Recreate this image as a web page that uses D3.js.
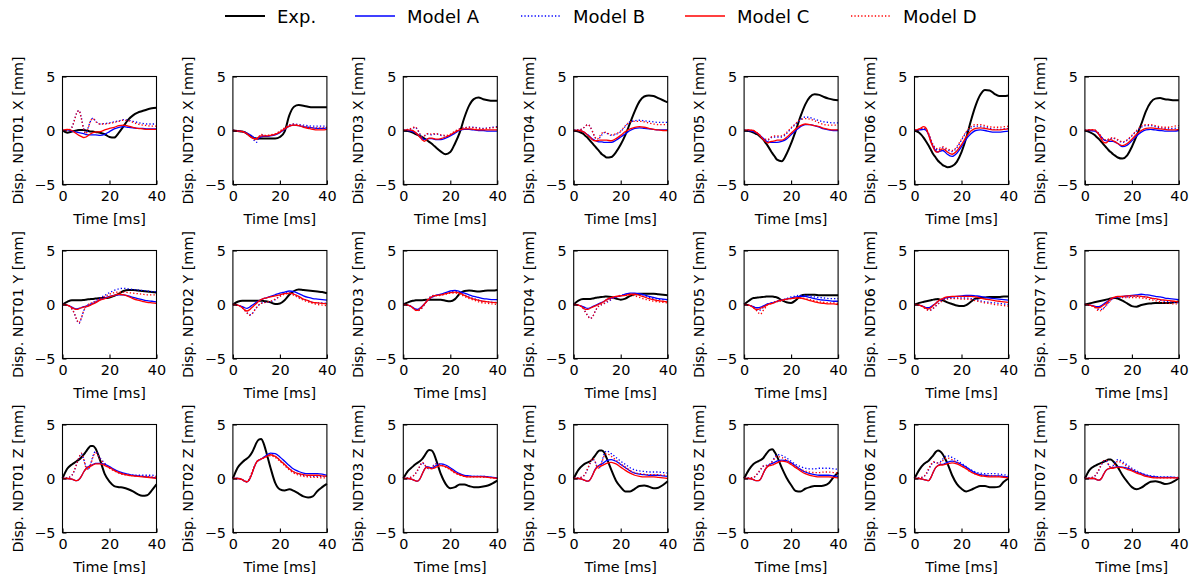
<!DOCTYPE html>
<html lang="en">
<head>
<meta charset="UTF-8">
<title>NDT displacement comparison</title>
<script src="https://d3js.org/d3.v7.min.js"></script>
<style>
  body { margin: 0; background: #fff; }
  svg { font-family: "DejaVu Sans", sans-serif; }
</style>
</head>
<body>
<div id="chart"></div>
<script>
// time samples [ms]
const TIME = [0,2,4,5,6,7,8,9,10,11,12,13,14,16,18,20,22,24,26,28,30,32,34,36,38,40];
const NODES = ["NDT01","NDT02","NDT03","NDT04","NDT05","NDT06","NDT07"];
const DIRS = ["X","Y","Z"];
const SERIES = ["Exp.","Model A","Model B","Model C","Model D"];
const X_TICKS = [0, 20, 40];
const Y_TICKS = [-5, 0, 5];

// ---- X displacement, one row per node ----
const expX = [
  [0,-0.2,-0.1,-0.05,0,0.05,0.05,0.05,0,-0.05,-0.1,-0.1,-0.15,-0.2,-0.35,-0.6,-0.65,-0.2,0.4,1.0,1.4,1.65,1.8,1.95,2.05,2.1],
  [0,-0.05,-0.1,-0.15,-0.3,-0.45,-0.6,-0.7,-0.75,-0.75,-0.75,-0.75,-0.75,-0.75,-0.75,-0.6,-0.1,1.4,2.2,2.35,2.3,2.2,2.15,2.15,2.15,2.15],
  [0,-0.05,-0.2,-0.3,-0.4,-0.5,-0.6,-0.75,-0.9,-1.05,-1.2,-1.4,-1.6,-1.95,-2.2,-2.0,-1.2,-0.2,1.2,2.3,2.9,3.05,2.9,2.8,2.75,2.75],
  [0,-0.1,-0.3,-0.5,-0.7,-0.95,-1.2,-1.45,-1.7,-1.95,-2.2,-2.35,-2.5,-2.45,-2.0,-1.3,-0.4,0.7,1.8,2.7,3.15,3.25,3.2,3.0,2.8,2.6],
  [0,-0.05,-0.2,-0.3,-0.4,-0.6,-0.8,-1.1,-1.4,-1.75,-2.1,-2.4,-2.7,-2.85,-2.2,-1.2,0,1.3,2.4,3.1,3.35,3.3,3.1,2.95,2.85,2.8],
  [0,-0.2,-0.7,-1.05,-1.4,-1.8,-2.2,-2.5,-2.8,-3.0,-3.2,-3.3,-3.4,-3.3,-2.9,-2.0,-0.7,0.9,2.3,3.3,3.75,3.7,3.4,3.2,3.2,3.25],
  [0,-0.15,-0.4,-0.6,-0.8,-1.05,-1.3,-1.55,-1.8,-2.0,-2.2,-2.35,-2.5,-2.6,-2.3,-1.5,-0.5,0.6,1.8,2.6,2.95,3.0,2.9,2.85,2.8,2.8]
];
const modelAX = [
  [0,0.05,-0.05,-0.1,-0.15,-0.2,-0.25,-0.3,-0.35,-0.4,-0.4,-0.4,-0.4,-0.45,-0.35,-0.1,0.15,0.3,0.35,0.3,0.25,0.2,0.2,0.15,0.15,0.15],
  [0,-0.05,-0.1,-0.15,-0.25,-0.35,-0.5,-0.65,-0.75,-0.7,-0.6,-0.55,-0.55,-0.5,-0.4,-0.2,0.1,0.4,0.5,0.45,0.35,0.3,0.25,0.2,0.2,0.25],
  [0,0,-0.1,-0.2,-0.35,-0.55,-0.75,-0.85,-0.8,-0.75,-0.75,-0.8,-0.85,-0.85,-0.7,-0.5,-0.25,0,0.1,0.1,0.05,0,0,-0.05,-0.05,-0.05],
  [0,0,-0.1,-0.25,-0.4,-0.6,-0.8,-0.9,-1.0,-1.05,-1.05,-1.1,-1.1,-1.1,-0.9,-0.6,-0.3,0,0.2,0.25,0.2,0.15,0.1,0.05,0.05,0.05],
  [0,0,-0.1,-0.2,-0.3,-0.5,-0.7,-0.9,-1.05,-1.1,-1.1,-1.1,-1.1,-1.0,-0.8,-0.4,0,0.35,0.55,0.55,0.45,0.3,0.15,0.05,0,0],
  [0,0.05,0.1,0,-0.4,-1.0,-1.5,-1.85,-2.0,-1.9,-1.85,-2.0,-2.2,-2.4,-2.1,-1.5,-0.8,-0.3,0,0.05,0,-0.1,-0.15,-0.15,-0.1,-0.05],
  [0,0,-0.05,-0.15,-0.35,-0.6,-0.85,-0.95,-1.0,-1.0,-1.0,-1.1,-1.2,-1.5,-1.35,-0.95,-0.5,-0.15,0.05,0.1,0.05,0,-0.05,-0.05,-0.05,0]
];
const modelBX = [
  [0,0,0.3,0.9,1.6,1.85,1.2,0.2,-0.4,0.3,0.9,1.15,0.9,0.6,0.65,0.7,0.8,0.9,1.0,0.95,0.85,0.75,0.65,0.6,0.6,0.6],
  [0,-0.05,-0.1,-0.15,-0.3,-0.45,-0.65,-0.9,-1.1,-0.7,-0.4,-0.45,-0.5,-0.45,-0.35,-0.1,0.2,0.5,0.6,0.55,0.5,0.45,0.4,0.4,0.4,0.4],
  [0,0.1,0.2,0.3,0.1,-0.3,-0.6,-0.5,-0.3,-0.35,-0.4,-0.35,-0.3,-0.45,-0.5,-0.4,-0.1,0.15,0.25,0.3,0.3,0.25,0.2,0.25,0.3,0.35],
  [0,0.05,0.2,0.4,0.55,0.35,-0.1,-0.6,-0.9,-0.7,-0.4,-0.2,-0.25,-0.45,-0.35,-0.1,0.4,0.8,0.9,0.95,0.9,0.85,0.8,0.75,0.75,0.75],
  [0,0,-0.05,-0.15,-0.3,-0.5,-0.75,-0.85,-0.9,-0.75,-0.6,-0.6,-0.6,-0.6,-0.3,0.2,0.6,1.0,1.25,1.2,1.05,0.9,0.8,0.75,0.7,0.7],
  [0,0.1,0.2,0.05,-0.3,-0.9,-1.4,-1.7,-1.8,-1.7,-1.6,-1.7,-1.8,-1.95,-1.6,-0.9,-0.2,0.2,0.4,0.4,0.3,0.2,0.1,0.1,0.15,0.2],
  [0,0.05,0.05,-0.1,-0.3,-0.6,-0.9,-0.9,-0.85,-0.75,-0.7,-0.8,-0.9,-1.1,-0.9,-0.5,-0.05,0.3,0.45,0.45,0.35,0.25,0.2,0.15,0.2,0.25]
];
const modelCX = [
  [0,0.1,0,-0.15,-0.3,-0.45,-0.55,-0.65,-0.6,-0.45,-0.3,-0.2,-0.15,-0.1,0.05,0.2,0.3,0.45,0.5,0.4,0.3,0.2,0.15,0.1,0.1,0.1],
  [0,-0.05,-0.1,-0.2,-0.3,-0.5,-0.65,-0.75,-0.75,-0.6,-0.5,-0.5,-0.5,-0.45,-0.35,-0.15,0.15,0.4,0.5,0.45,0.3,0.2,0.1,0.05,0.05,0.1],
  [0,0.05,0,-0.15,-0.35,-0.6,-0.85,-1.0,-0.85,-0.7,-0.7,-0.75,-0.8,-0.75,-0.6,-0.4,-0.15,0.05,0.15,0.15,0.1,0.05,0.05,0.05,0.05,0.05],
  [0,0,-0.1,-0.25,-0.45,-0.65,-0.85,-0.95,-0.95,-0.9,-0.9,-0.9,-0.9,-0.95,-0.75,-0.45,-0.1,0.15,0.3,0.35,0.3,0.2,0.1,0.05,0,0],
  [0,0.05,0,-0.15,-0.3,-0.55,-0.8,-1.0,-1.15,-1.05,-1.0,-0.95,-0.9,-0.9,-0.65,-0.25,0.15,0.45,0.6,0.55,0.45,0.35,0.2,0.1,0.05,0.05],
  [0,0.15,0.35,0.2,-0.4,-1.1,-1.6,-1.95,-2.0,-1.8,-1.7,-1.8,-2.0,-2.2,-1.9,-1.3,-0.6,-0.05,0.2,0.25,0.2,0.1,0.05,0.05,0.1,0.15],
  [0,0.05,0.05,-0.1,-0.4,-0.8,-1.1,-1.15,-0.95,-0.85,-0.95,-1.05,-1.2,-1.4,-1.2,-0.8,-0.35,0,0.2,0.25,0.2,0.15,0.1,0.05,0.05,0.1]
];
const modelDX = [
  [0,0,0.3,0.9,1.6,1.85,1.1,0.1,-0.3,0.3,0.9,1.1,0.85,0.6,0.6,0.65,0.75,0.85,0.95,0.9,0.75,0.6,0.5,0.45,0.4,0.4],
  [0,-0.05,-0.1,-0.15,-0.3,-0.45,-0.6,-0.8,-0.9,-0.6,-0.35,-0.4,-0.45,-0.4,-0.3,-0.05,0.25,0.5,0.6,0.5,0.4,0.3,0.25,0.25,0.25,0.3],
  [0,0.1,0.25,0.35,0.1,-0.3,-0.6,-0.5,-0.3,-0.3,-0.35,-0.3,-0.3,-0.4,-0.45,-0.35,-0.05,0.15,0.25,0.3,0.25,0.2,0.15,0.2,0.25,0.3],
  [0,0.05,0.2,0.4,0.55,0.35,-0.1,-0.6,-0.8,-0.55,-0.25,-0.15,-0.2,-0.4,-0.3,-0.05,0.45,0.8,0.85,0.85,0.8,0.7,0.6,0.55,0.55,0.55],
  [0,0.05,-0.05,-0.15,-0.3,-0.5,-0.75,-0.8,-0.85,-0.7,-0.55,-0.5,-0.5,-0.5,-0.2,0.25,0.65,1.0,1.1,1.05,0.9,0.7,0.55,0.5,0.5,0.5],
  [0,0.1,0.25,0.05,-0.3,-0.85,-1.35,-1.6,-1.7,-1.6,-1.5,-1.6,-1.7,-1.85,-1.5,-0.8,-0.1,0.35,0.55,0.55,0.45,0.35,0.3,0.3,0.35,0.4],
  [0,0.05,0.05,-0.1,-0.3,-0.55,-0.85,-0.85,-0.8,-0.7,-0.65,-0.75,-0.85,-1.05,-0.85,-0.45,0,0.4,0.55,0.55,0.45,0.35,0.3,0.3,0.4,0.45]
];

// ---- Y displacement ----
const expY = [
  [0,0.25,0.4,0.4,0.4,0.4,0.4,0.42,0.45,0.48,0.5,0.52,0.55,0.6,0.6,0.65,0.8,1.0,1.25,1.35,1.35,1.3,1.25,1.2,1.15,1.1],
  [0,0.25,0.35,0.35,0.35,0.35,0.35,0.35,0.35,0.35,0.35,0.33,0.3,0.2,0.05,0.1,0.4,0.9,1.25,1.4,1.35,1.3,1.25,1.2,1.15,1.05],
  [0,0.2,0.35,0.38,0.4,0.4,0.4,0.42,0.45,0.45,0.45,0.45,0.45,0.45,0.35,0.3,0.5,1.0,1.25,1.3,1.25,1.2,1.25,1.3,1.3,1.35],
  [0,0.35,0.5,0.5,0.5,0.52,0.55,0.6,0.65,0.68,0.7,0.72,0.75,0.7,0.55,0.45,0.55,0.8,0.95,1.0,1.0,1.0,1.0,0.95,0.9,0.85],
  [0,0.35,0.6,0.62,0.65,0.68,0.7,0.72,0.75,0.75,0.75,0.7,0.65,0.4,0.2,0.15,0.4,0.8,0.9,0.9,0.9,0.85,0.85,0.85,0.85,0.85],
  [0,0.15,0.25,0.3,0.35,0.4,0.45,0.48,0.5,0.45,0.4,0.3,0.2,0.05,-0.1,-0.15,-0.05,0.25,0.55,0.6,0.65,0.7,0.7,0.7,0.75,0.75],
  [0,0.1,0.2,0.25,0.3,0.35,0.4,0.45,0.5,0.55,0.6,0.6,0.55,0.35,0.1,-0.15,-0.2,-0.05,0.05,0.1,0.15,0.15,0.15,0.15,0.2,0.3]
];
const modelAY = [
  [0,-0.05,-0.25,-0.35,-0.4,-0.35,-0.3,-0.2,-0.15,-0.1,0,0.1,0.2,0.45,0.6,0.75,0.85,0.9,0.9,0.8,0.65,0.55,0.45,0.35,0.3,0.25],
  [0,-0.05,-0.2,-0.3,-0.35,-0.25,-0.1,0.05,0.2,0.35,0.45,0.55,0.6,0.75,0.9,1.05,1.15,1.25,1.2,1.0,0.8,0.65,0.55,0.5,0.45,0.4],
  [0,-0.05,-0.25,-0.4,-0.45,-0.35,-0.15,0.05,0.3,0.5,0.65,0.75,0.85,0.95,1.1,1.25,1.3,1.2,1.05,0.9,0.75,0.65,0.55,0.5,0.45,0.45],
  [0,-0.05,-0.2,-0.3,-0.35,-0.3,-0.2,-0.1,0,0.1,0.2,0.3,0.45,0.6,0.7,0.8,0.95,1.05,1.05,1.0,0.9,0.75,0.65,0.55,0.5,0.45],
  [0,-0.05,-0.2,-0.3,-0.3,-0.25,-0.15,-0.05,0.05,0.1,0.15,0.2,0.3,0.4,0.5,0.6,0.7,0.75,0.75,0.65,0.55,0.45,0.4,0.35,0.3,0.3],
  [0,-0.05,-0.2,-0.3,-0.3,-0.2,-0.05,0.1,0.3,0.4,0.5,0.6,0.65,0.7,0.75,0.8,0.85,0.85,0.8,0.75,0.65,0.6,0.55,0.5,0.45,0.4],
  [0,-0.05,-0.15,-0.2,-0.2,-0.1,0.05,0.2,0.35,0.5,0.6,0.65,0.7,0.75,0.8,0.85,0.9,0.95,0.9,0.85,0.75,0.7,0.6,0.55,0.5,0.45]
];
const modelBY = [
  [0,-0.05,-0.4,-0.8,-1.4,-1.75,-1.3,-0.6,-0.2,0,0.1,0.2,0.35,0.6,0.85,1.1,1.3,1.45,1.5,1.45,1.4,1.35,1.3,1.25,1.2,1.2],
  [0,-0.05,-0.3,-0.5,-0.75,-0.95,-0.9,-0.6,-0.3,-0.05,0.1,0.2,0.2,0.25,0.45,0.8,1.05,1.1,0.95,0.7,0.5,0.35,0.2,0.15,0.15,0.1],
  [0,-0.05,-0.3,-0.5,-0.55,-0.5,-0.3,0,0.35,0.6,0.8,0.85,0.85,0.9,1.0,1.15,1.2,1.1,0.9,0.7,0.55,0.4,0.3,0.25,0.2,0.2],
  [0,-0.05,-0.35,-0.7,-1.05,-1.3,-1.15,-0.7,-0.3,-0.1,0,0.1,0.2,0.45,0.7,0.85,0.95,1.0,0.95,0.85,0.75,0.65,0.55,0.5,0.45,0.45],
  [0,-0.05,-0.25,-0.4,-0.55,-0.5,-0.3,-0.1,0.05,0.1,0.2,0.25,0.3,0.4,0.55,0.7,0.8,0.85,0.85,0.8,0.7,0.65,0.6,0.55,0.55,0.55],
  [0,-0.05,-0.25,-0.4,-0.5,-0.5,-0.35,-0.15,0.05,0.25,0.4,0.5,0.55,0.6,0.6,0.6,0.6,0.55,0.45,0.35,0.25,0.2,0.15,0.1,0.05,0],
  [0,-0.05,-0.2,-0.35,-0.45,-0.45,-0.3,-0.1,0.15,0.4,0.6,0.65,0.7,0.7,0.7,0.75,0.75,0.75,0.7,0.6,0.5,0.4,0.3,0.25,0.2,0.15]
];
const modelCY = [
  [0,-0.05,-0.3,-0.4,-0.45,-0.4,-0.3,-0.25,-0.2,-0.15,-0.05,0.05,0.15,0.4,0.55,0.7,0.85,0.95,0.9,0.75,0.55,0.4,0.3,0.2,0.15,0.1],
  [0,-0.05,-0.3,-0.5,-0.6,-0.5,-0.3,-0.1,0.1,0.3,0.45,0.55,0.6,0.7,0.8,0.9,1.0,1.05,0.95,0.75,0.5,0.35,0.2,0.15,0.1,0.05],
  [0,-0.05,-0.3,-0.5,-0.55,-0.4,-0.2,0.05,0.3,0.5,0.7,0.8,0.85,0.9,1.0,1.1,1.15,1.05,0.85,0.65,0.5,0.4,0.3,0.25,0.2,0.15],
  [0,-0.05,-0.3,-0.45,-0.45,-0.35,-0.25,-0.15,-0.05,0.05,0.15,0.3,0.45,0.65,0.75,0.8,0.85,0.95,0.95,0.85,0.7,0.55,0.45,0.35,0.3,0.25],
  [0,-0.05,-0.3,-0.45,-0.45,-0.35,-0.25,-0.15,0,0.05,0.1,0.2,0.3,0.4,0.5,0.55,0.6,0.6,0.5,0.35,0.25,0.15,0.1,0.05,0.05,0],
  [0,-0.05,-0.25,-0.35,-0.4,-0.3,-0.1,0.1,0.3,0.45,0.55,0.65,0.7,0.75,0.75,0.75,0.75,0.75,0.7,0.6,0.5,0.45,0.35,0.3,0.25,0.2],
  [0,-0.05,-0.2,-0.3,-0.3,-0.2,-0.05,0.1,0.3,0.5,0.65,0.7,0.75,0.75,0.8,0.8,0.8,0.75,0.7,0.6,0.55,0.45,0.4,0.35,0.3,0.25]
];
const modelDY = [
  [0,-0.05,-0.4,-0.8,-1.35,-1.7,-1.25,-0.6,-0.2,0,0.1,0.2,0.3,0.55,0.75,0.95,1.1,1.15,1.15,1.1,1.05,1.0,0.95,0.9,0.9,0.9],
  [0,-0.05,-0.3,-0.55,-0.8,-1.0,-0.9,-0.6,-0.3,-0.05,0.1,0.15,0.2,0.3,0.5,0.75,0.95,1.0,0.85,0.6,0.4,0.25,0.1,0,-0.05,-0.1],
  [0,-0.05,-0.3,-0.5,-0.6,-0.5,-0.3,0,0.35,0.6,0.75,0.8,0.8,0.85,0.95,1.05,1.05,0.95,0.75,0.55,0.4,0.25,0.15,0.1,0.05,0],
  [0,-0.05,-0.35,-0.7,-1.05,-1.3,-1.15,-0.7,-0.3,-0.1,0,0.1,0.25,0.5,0.7,0.8,0.85,0.85,0.8,0.65,0.5,0.4,0.3,0.25,0.2,0.15],
  [0,-0.05,-0.3,-0.5,-0.75,-0.9,-0.6,-0.3,-0.05,0.05,0.15,0.2,0.25,0.35,0.45,0.55,0.6,0.6,0.55,0.45,0.35,0.25,0.2,0.15,0.15,0.1],
  [0,-0.05,-0.3,-0.45,-0.55,-0.5,-0.35,-0.15,0.05,0.2,0.35,0.45,0.5,0.55,0.55,0.5,0.5,0.45,0.35,0.25,0.15,0.1,0,-0.05,-0.1,-0.15],
  [0,-0.05,-0.25,-0.45,-0.6,-0.55,-0.35,-0.1,0.15,0.4,0.55,0.65,0.7,0.65,0.65,0.65,0.65,0.6,0.55,0.45,0.35,0.25,0.15,0.1,0.05,0.05]
];

// ---- Z displacement ----
const expZ = [
  [0,0.9,1.3,1.45,1.6,1.75,1.95,2.2,2.5,2.8,3.0,3.0,2.8,1.7,0.4,-0.3,-0.7,-0.8,-0.85,-1.0,-1.2,-1.45,-1.6,-1.55,-1.1,-0.55],
  [0,1.0,1.5,1.7,1.85,2.05,2.35,2.8,3.3,3.6,3.65,3.3,2.6,1.0,-0.4,-1.0,-1.1,-1.0,-1.15,-1.4,-1.65,-1.75,-1.65,-1.15,-0.8,-0.5],
  [0,0.7,1.1,1.3,1.45,1.6,1.8,2.1,2.45,2.65,2.6,2.3,1.7,0.4,-0.5,-0.9,-0.8,-0.55,-0.55,-0.7,-0.8,-0.8,-0.75,-0.65,-0.45,-0.2],
  [0,0.8,1.25,1.4,1.5,1.6,1.8,2.1,2.4,2.6,2.6,2.4,1.9,0.8,-0.2,-0.8,-1.2,-1.2,-0.95,-0.7,-0.65,-0.75,-0.9,-0.85,-0.6,-0.25],
  [0,0.8,1.35,1.5,1.6,1.7,1.85,2.15,2.45,2.65,2.7,2.45,2.05,1.0,0.1,-0.6,-1.15,-1.2,-0.95,-0.8,-0.7,-0.7,-0.65,-0.45,0.1,0.55],
  [0,0.8,1.35,1.5,1.65,1.9,2.15,2.45,2.6,2.5,2.25,1.85,1.4,0.3,-0.5,-0.95,-1.2,-1.05,-0.85,-0.7,-0.7,-0.8,-0.8,-0.75,-0.3,0],
  [0,0.8,1.15,1.25,1.35,1.45,1.55,1.65,1.75,1.75,1.6,1.35,1.05,0.3,-0.3,-0.8,-1.0,-0.85,-0.55,-0.3,-0.25,-0.35,-0.5,-0.45,-0.25,0.05]
];
const modelAZ = [
  [0,0,-0.05,-0.15,-0.2,-0.1,0.2,0.6,0.9,1.1,1.2,1.3,1.4,1.4,1.3,1.1,0.85,0.65,0.5,0.4,0.3,0.25,0.2,0.15,0.1,0.05],
  [0,0,-0.1,-0.25,-0.3,-0.1,0.4,1.0,1.5,1.7,1.8,1.95,2.1,2.35,2.3,2.0,1.6,1.2,0.85,0.65,0.5,0.45,0.45,0.45,0.4,0.3],
  [0,0,-0.1,-0.2,-0.25,-0.05,0.4,0.85,1.1,1.05,0.95,1.05,1.2,1.35,1.25,1.0,0.7,0.45,0.3,0.25,0.2,0.2,0.2,0.15,0.1,0.05],
  [0,0,-0.1,-0.2,-0.25,-0.1,0.3,0.8,1.1,1.25,1.35,1.5,1.65,1.75,1.6,1.3,1.0,0.7,0.5,0.4,0.35,0.3,0.3,0.3,0.25,0.2],
  [0,0,-0.1,-0.2,-0.2,-0.05,0.4,0.85,1.15,1.3,1.4,1.5,1.6,1.7,1.65,1.45,1.15,0.85,0.6,0.45,0.35,0.3,0.3,0.3,0.25,0.2],
  [0,0,-0.1,-0.15,-0.2,0.1,0.6,1.0,1.2,1.3,1.3,1.4,1.5,1.6,1.5,1.3,1.05,0.75,0.5,0.35,0.3,0.25,0.25,0.25,0.2,0.15],
  [0,0,0,-0.1,-0.15,0,0.4,0.75,0.9,0.95,1.0,1.05,1.1,1.05,0.95,0.8,0.6,0.45,0.3,0.2,0.15,0.1,0.1,0.1,0.1,0.05]
];
const modelBZ = [
  [0,0.05,0.3,0.7,1.3,1.9,2.3,1.8,1.1,0.9,1.4,2.1,2.5,1.9,1.4,1.0,0.75,0.55,0.4,0.35,0.3,0.3,0.3,0.3,0.3,0.25],
  [0,0,-0.1,-0.25,-0.3,-0.05,0.5,1.05,1.5,1.7,1.8,1.9,2.0,2.2,2.05,1.7,1.3,0.9,0.6,0.4,0.3,0.25,0.2,0.2,0.2,0.15],
  [0,0.05,0.2,0.4,0.7,1.1,1.45,1.3,1.0,0.9,1.0,1.25,1.4,1.3,1.1,0.85,0.55,0.35,0.25,0.2,0.2,0.2,0.2,0.15,0.1,0.05],
  [0,0.05,0.2,0.45,0.9,1.4,1.8,1.6,1.1,1.0,1.6,2.3,2.55,2.3,1.95,1.6,1.3,1.0,0.8,0.7,0.65,0.6,0.6,0.6,0.55,0.5],
  [0,0.05,0.1,0.25,0.5,0.8,1.1,1.2,1.25,1.35,1.6,1.95,2.2,2.15,1.9,1.6,1.3,1.1,0.95,0.9,0.9,0.95,0.95,0.95,0.9,0.85],
  [0,0.05,0.2,0.4,0.8,1.2,1.5,1.5,1.45,1.55,1.8,2.05,2.1,1.95,1.7,1.4,1.1,0.8,0.6,0.5,0.45,0.45,0.45,0.4,0.35,0.3],
  [0,0.05,0.2,0.4,0.8,1.25,1.6,1.65,1.3,1.05,1.2,1.55,1.75,1.55,1.25,0.95,0.7,0.5,0.35,0.25,0.2,0.15,0.15,0.15,0.1,0.1]
];
const modelCZ = [
  [0,0,-0.05,-0.15,-0.2,-0.1,0.2,0.6,0.9,1.05,1.15,1.25,1.35,1.35,1.2,1.0,0.75,0.55,0.4,0.3,0.25,0.2,0.15,0.1,0.05,0],
  [0,0,-0.1,-0.25,-0.3,-0.1,0.4,1.0,1.5,1.7,1.8,1.9,2.0,2.2,2.05,1.7,1.3,0.9,0.6,0.45,0.35,0.3,0.3,0.3,0.25,0.2],
  [0,0,-0.1,-0.2,-0.25,-0.05,0.4,0.85,1.05,1.0,0.9,0.95,1.05,1.2,1.1,0.85,0.55,0.35,0.2,0.15,0.15,0.15,0.15,0.1,0.05,0],
  [0,0,-0.1,-0.2,-0.25,-0.1,0.3,0.75,1.05,1.15,1.2,1.3,1.4,1.5,1.35,1.05,0.75,0.5,0.3,0.2,0.15,0.15,0.15,0.1,0.05,0],
  [0,0,-0.1,-0.2,-0.2,-0.05,0.4,0.85,1.1,1.2,1.25,1.35,1.45,1.6,1.55,1.3,1.0,0.7,0.45,0.3,0.2,0.15,0.15,0.15,0.1,0.05],
  [0,0,-0.1,-0.15,-0.2,0.1,0.6,1.0,1.2,1.25,1.25,1.3,1.35,1.45,1.35,1.15,0.9,0.6,0.4,0.25,0.2,0.15,0.15,0.15,0.1,0.05],
  [0,0,0,-0.1,-0.15,0,0.4,0.75,0.9,0.95,0.95,1.0,1.05,1.0,0.85,0.7,0.5,0.35,0.2,0.1,0.05,0.05,0.05,0.05,0.05,0.05]
];
const modelDZ = [
  [0,0.05,0.3,0.75,1.35,1.95,2.35,1.8,1.0,0.85,1.3,2.0,2.4,1.8,1.3,0.95,0.7,0.5,0.35,0.3,0.25,0.2,0.2,0.2,0.15,0.15],
  [0,0,-0.1,-0.25,-0.3,-0.05,0.5,1.05,1.5,1.7,1.8,1.9,2.0,2.1,1.95,1.6,1.2,0.8,0.5,0.3,0.2,0.15,0.1,0.1,0.05,0.05],
  [0,0.05,0.2,0.4,0.75,1.15,1.5,1.3,1.0,0.9,1.0,1.2,1.35,1.25,1.05,0.8,0.5,0.3,0.2,0.15,0.15,0.15,0.1,0.1,0.05,0],
  [0,0.05,0.2,0.5,0.95,1.45,1.85,1.6,1.05,0.95,1.5,2.1,2.3,2.05,1.7,1.35,1.05,0.75,0.55,0.45,0.4,0.35,0.35,0.35,0.3,0.3],
  [0,0.05,0.1,0.3,0.55,0.85,1.15,1.2,1.2,1.3,1.55,1.85,2.05,1.95,1.7,1.4,1.1,0.85,0.7,0.6,0.55,0.55,0.6,0.6,0.55,0.5],
  [0,0.05,0.2,0.45,0.9,1.3,1.55,1.5,1.4,1.45,1.65,1.85,1.9,1.75,1.5,1.2,0.9,0.6,0.4,0.3,0.25,0.25,0.25,0.2,0.15,0.1],
  [0,0.05,0.2,0.45,0.85,1.3,1.65,1.7,1.3,1.0,1.1,1.4,1.6,1.4,1.1,0.85,0.6,0.4,0.25,0.15,0.1,0.05,0.05,0.05,0.05,0.05]
];

// series tables per direction (legend order = drawing order)
const byDir = {
  X: [expX, modelAX, modelBX, modelCX, modelDX],
  Y: [expY, modelAY, modelBY, modelCY, modelDY],
  Z: [expZ, modelAZ, modelBZ, modelCZ, modelDZ]
};
const styles = [
  { color: "#000000", width: 2.0, dash: null },
  { color: "#0000ff", width: 1.3, dash: null },
  { color: "#0000ff", width: 1.3, dash: "1.3,2.1" },
  { color: "#ff0000", width: 1.3, dash: null },
  { color: "#ff0000", width: 1.3, dash: "1.3,2.1" }
];

// layout
const W = 1192, H = 582;
const plotW = 94, plotH = 108;
const left0 = 62.5, colStep = 170.4;
const top0 = 76.5, rowStep = 174;

const svg = d3.select("#chart").append("svg")
  .attr("width", W).attr("height", H);

const x = d3.scaleLinear().domain([0, 40]).range([0, plotW]);
const y = d3.scaleLinear().domain([-5, 5]).range([plotH, 0]);

const line = d3.line()
  .x((d, i) => x(TIME[i]))
  .y(d => y(d))
  .curve(d3.curveMonotoneX);

DIRS.forEach((dir, r) => {
  NODES.forEach((node, c) => {
    const g = svg.append("g")
      .attr("transform", `translate(${left0 + c * colStep},${top0 + r * rowStep})`);

    // curves
    byDir[dir].forEach((tbl, s) => {
      const st = styles[s];
      g.append("path")
        .datum(tbl[c])
        .attr("fill", "none")
        .attr("stroke", st.color)
        .attr("stroke-width", st.width)
        .attr("stroke-dasharray", st.dash)
        .attr("stroke-linejoin", "round")
        .attr("d", line);
    });

    // axes, ticks pointing inwards
    const xa = g.append("g")
      .attr("transform", `translate(0,${plotH})`)
      .call(d3.axisBottom(x).tickValues(X_TICKS).tickSizeInner(-4).tickSizeOuter(0).tickPadding(6));
    const ya = g.append("g")
      .call(d3.axisLeft(y).tickValues(Y_TICKS).tickSizeInner(-4).tickSizeOuter(0).tickPadding(7));
    [xa, ya].forEach(a => {
      a.select(".domain").remove();
      a.selectAll("text").attr("font-size", 14.4).attr("font-family", "DejaVu Sans").attr("fill", "#000");
      a.selectAll("line").attr("stroke", "#000").attr("stroke-width", 1.1);
    });

    // frame
    g.append("rect")
      .attr("width", plotW).attr("height", plotH)
      .attr("fill", "none").attr("stroke", "#000").attr("stroke-width", 1.1);

    // labels
    g.append("text")
      .attr("x", plotW / 2).attr("y", plotH + 39)
      .attr("text-anchor", "middle")
      .attr("font-size", 14.4)
      .text("Time [ms]");
    g.append("text")
      .attr("transform", `translate(-40,${plotH / 2}) rotate(-90)`)
      .attr("text-anchor", "middle")
      .attr("font-size", 14.4)
      .text(`Disp. ${node} ${dir} [mm]`);
  });
});

// legend
const legX = [225, 355, 521, 685, 851];
const legend = svg.append("g").attr("transform", "translate(0,16)");
SERIES.forEach((name, i) => {
  const st = styles[i];
  legend.append("line")
    .attr("x1", legX[i]).attr("x2", legX[i] + 40)
    .attr("y1", 0).attr("y2", 0)
    .attr("stroke", st.color)
    .attr("stroke-width", st.width)
    .attr("stroke-dasharray", st.dash);
  legend.append("text")
    .attr("x", legX[i] + 52).attr("y", 6.5)
    .attr("font-size", 18)
    .text(name);
});
</script>
</body>
</html>
